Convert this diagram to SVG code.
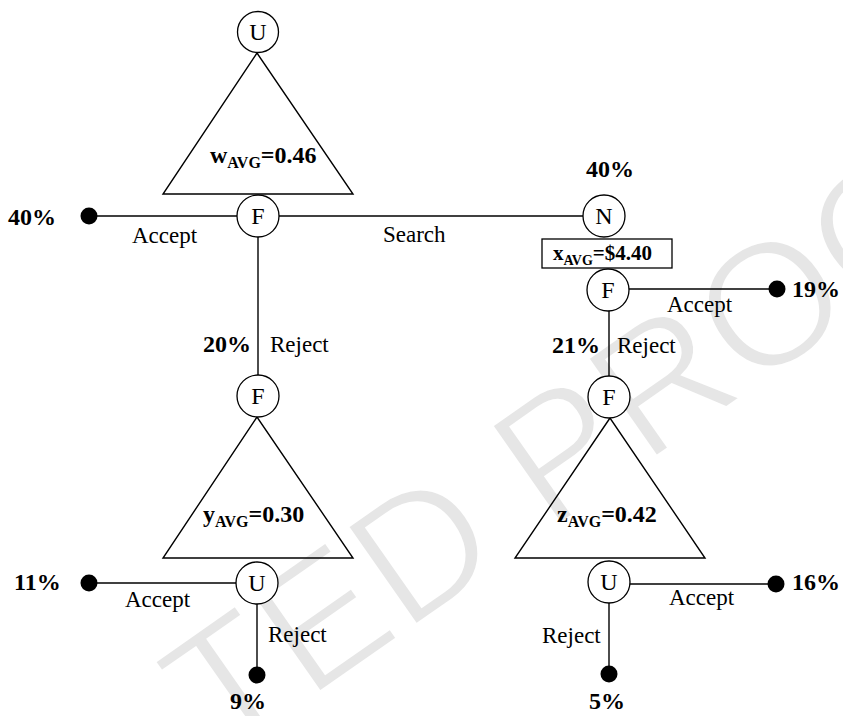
<svg xmlns="http://www.w3.org/2000/svg" width="843" height="716" viewBox="0 0 843 716">
<style>
.wm{font-size:176px;fill:#e6e6e6;stroke:#fff;stroke-width:4}
.ln{stroke:#000;stroke-width:1.4;fill:none}
.tri{stroke:#000;stroke-width:1.4;fill:none}
.nd{stroke:#000;stroke-width:1.3;fill:#fff}
.dot{fill:#000}
.nl{font-size:24px;text-anchor:middle}
.lb{font-size:23px}
.pc{font-size:24px;font-weight:bold}
.av{font-size:24px;font-weight:bold}
.sub{font-size:16px}
</style>
<rect width="843" height="716" fill="#fff"/>
<text class="wm" font-family="Liberation Sans, Arial, sans-serif" transform="translate(220,763) rotate(-35)">TED PROO</text>
<g id="connectors">
<line class="ln" x1="89" y1="216" x2="237" y2="216"/>
<line class="ln" x1="279" y1="216" x2="583" y2="216"/>
<line class="ln" x1="258" y1="237" x2="258" y2="375"/>
<line class="ln" x1="629" y1="289" x2="777" y2="289"/>
<line class="ln" x1="609" y1="311" x2="609" y2="376"/>
<line class="ln" x1="89" y1="583" x2="236" y2="583"/>
<line class="ln" x1="257" y1="604" x2="257" y2="675"/>
<line class="ln" x1="630" y1="584" x2="776" y2="584"/>
<line class="ln" x1="609" y1="603" x2="609" y2="674"/>
</g>
<g font-family="'Liberation Serif', 'Times New Roman', Times, serif">
<g id="tri-w"><polygon class="tri" points="257,53 163,194 353,194"/>
<text class="av" x="210" y="163">w<tspan class="sub" dy="5">AVG</tspan><tspan dy="-5">=0.46</tspan></text></g>
<g id="tri-y"><polygon class="tri" points="257,417 163,558 353,558"/>
<text class="av" x="203" y="522">y<tspan class="sub" dy="5">AVG</tspan><tspan dy="-5">=0.30</tspan></text></g>
<g id="tri-z"><polygon class="tri" points="610,418 515,558 705,558"/>
<text class="av" x="557" y="522">z<tspan class="sub" dy="5">AVG</tspan><tspan dy="-5">=0.42</tspan></text></g>
<g id="node-U1"><circle class="nd" cx="258" cy="32" r="20.5"/><text class="nl" x="258" y="40">U</text></g>
<g id="node-F1"><circle class="nd" cx="258" cy="216" r="21"/><text class="nl" x="258" y="224">F</text></g>
<g id="node-N"><circle class="nd" cx="604" cy="216" r="21"/><text class="nl" x="604" y="224">N</text></g>
<g id="box-x"><rect x="542" y="239" width="130" height="29" fill="#fff" stroke="#000" stroke-width="1.3"/>
<text class="av" x="553" y="260" style="font-size:21px">x<tspan style="font-size:14px" dy="5">AVG</tspan><tspan dy="-5">=$4.40</tspan></text></g>
<g id="node-F2"><circle class="nd" cx="608" cy="290" r="21"/><text class="nl" x="608" y="298">F</text></g>
<g id="node-F3"><circle class="nd" cx="258" cy="396" r="21"/><text class="nl" x="258" y="404">F</text></g>
<g id="node-F4"><circle class="nd" cx="609" cy="397" r="21"/><text class="nl" x="609" y="405">F</text></g>
<g id="node-U3"><circle class="nd" cx="257" cy="583" r="21"/><text class="nl" x="257" y="591">U</text></g>
<g id="node-U4"><circle class="nd" cx="609" cy="582" r="21"/><text class="nl" x="609" y="590">U</text></g>
<g id="terminals">
<circle class="dot" cx="89" cy="216" r="8.5"/>
<circle class="dot" cx="777" cy="289" r="8.5"/>
<circle class="dot" cx="89" cy="583" r="8.5"/>
<circle class="dot" cx="257" cy="675" r="8.5"/>
<circle class="dot" cx="776" cy="584" r="8.5"/>
<circle class="dot" cx="609" cy="674" r="8.5"/>
</g>
<g id="labels">
<text class="pc" x="8" y="225">40%</text>
<text class="lb" x="132" y="243">Accept</text>
<text class="lb" x="383" y="242">Search</text>
<text class="pc" x="586" y="177">40%</text>
<text class="lb" x="667" y="312">Accept</text>
<text class="pc" x="792" y="297">19%</text>
<text class="pc" x="203" y="352">20%</text>
<text class="lb" x="270" y="352">Reject</text>
<text class="pc" x="552" y="353">21%</text>
<text class="lb" x="617" y="353">Reject</text>
<text class="pc" x="14" y="590">11%</text>
<text class="lb" x="125" y="607">Accept</text>
<text class="lb" x="268" y="642">Reject</text>
<text class="pc" x="230" y="709">9%</text>
<text class="pc" x="792" y="590">16%</text>
<text class="lb" x="669" y="605">Accept</text>
<text class="lb" x="542" y="643">Reject</text>
<text class="pc" x="589" y="709">5%</text>
</g>
</g>
</svg>
